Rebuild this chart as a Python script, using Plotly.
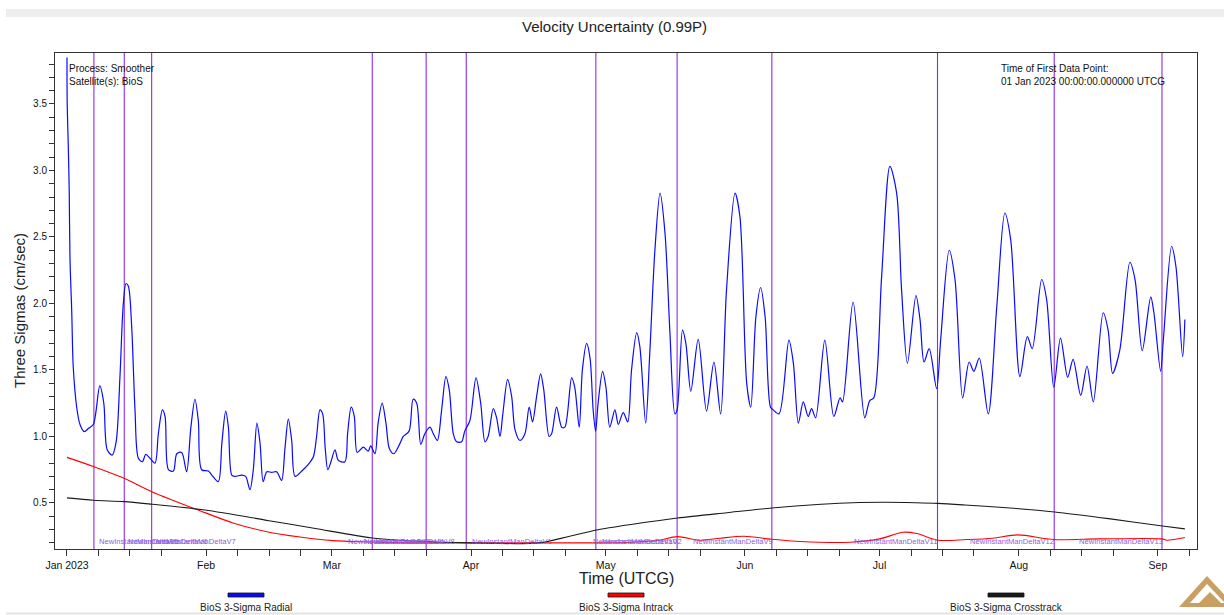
import pandas as pd
import plotly.graph_objects as go

# Epoch of the first data point; all series times are day offsets from it
EPOCH = pd.Timestamp("2023-01-01 00:00:00")

# BioS 3-sigma radial velocity uncertainty (cm/sec)
radial_day = [0.0, 0.05, 0.3, 0.5, 0.67, 1.05, 1.4, 2.16, 2.9, 3.86,
              4.75, 5.86, 7.3, 8.2, 8.95, 10.06, 10.95, 11.8, 12.55, 13.15,
              13.67, 14.4, 15.15, 15.9, 16.8, 17.55, 18.5, 19.6, 20.35, 21.25,
              21.85, 22.6, 23.7, 24.45, 25.55, 26.65, 27.6, 28.5, 29.25, 30.0,
              31.5, 32.25, 33.7, 34.5, 35.35, 35.95, 36.7, 37.4, 38.9, 39.8,
              40.75, 41.5, 42.3, 43.0, 43.7, 44.5, 45.6, 46.7, 47.8, 48.55,
              49.3, 50.05, 50.8, 52.3, 53.75, 54.9, 55.6, 56.35, 56.95, 57.5,
              58.1, 58.8, 59.7, 60.45, 61.9, 62.5, 63.3, 64.0, 64.65, 66.0,
              67.1, 67.65, 68.6, 69.3, 70.2, 71.05, 71.8, 72.8, 74.2, 74.9,
              76.2, 77.1, 77.9, 78.8, 79.7, 80.85, 81.6, 82.5, 83.45, 84.4,
              85.15, 86.05, 86.8, 87.9, 88.6, 89.75, 91.1, 92.15, 93.1, 93.8,
              94.95, 95.7, 96.45, 97.05, 98.15, 99.05, 99.8, 100.9, 102.0, 102.95,
              103.7, 104.6, 105.5, 106.2, 107.4, 107.95, 109.05, 110.2, 110.9, 112.4,
              113.1, 114.1, 114.8, 115.75, 116.5, 117.2, 117.75, 118.3, 119.3, 120.05,
              120.9, 122.05, 122.8, 123.9, 124.9, 125.75, 126.9, 127.6, 128.9, 129.8,
              130.95, 132.1, 133.2, 134.3, 135.4, 135.9, 137.1, 137.85, 138.95, 140.6,
              142.45, 144.1, 145.6, 146.9, 148.8, 149.9, 151.4, 152.3, 153.45, 154.5,
              155.5, 156.7, 157.3, 158.6, 160.8, 161.8, 162.9, 164.0, 165.1, 165.85,
              166.75, 168.8, 170.8, 172.2, 172.75, 175.1, 177.7, 178.8, 179.7, 181.45,
              183.3, 184.8, 185.9, 187.2, 189.1, 190.0, 190.9, 192.05, 193.7, 194.6,
              196.5, 197.8, 199.5, 200.95, 202.0, 203.2, 205.2, 207.1, 208.9, 210.2,
              212.25, 213.9, 215.0, 217.1, 218.2, 219.8, 221.3, 222.9, 224.1, 225.8,
              227.2, 228.6, 230.8, 231.9, 232.9, 234.5, 236.75, 237.9, 239.5, 241.4,
              242.1, 243.6, 244.2, 246.05, 247.0, 248.5, 249.0]
radial_val = [3.85, 3.5, 3.17, 2.84, 2.33, 1.95, 1.52, 1.22, 1.09, 1.036,
              1.06, 1.09, 1.38, 1.25, 0.90, 0.86, 0.96, 1.45, 2.0, 2.15,
              2.13, 1.83, 1.2, 0.836, 0.81, 0.866, 0.836, 0.80, 1.02, 1.2,
              1.15, 0.75, 0.74, 0.87, 0.88, 0.735, 1.07, 1.28, 1.12, 0.75,
              0.74, 0.71, 0.66, 0.95, 1.19, 1.07, 0.71, 0.70, 0.71, 0.70,
              0.60, 0.75, 1.10, 0.95, 0.66, 0.735, 0.73, 0.735, 0.67, 0.91,
              1.13, 0.97, 0.70, 0.74, 0.79, 0.85, 1.0, 1.2, 1.17, 0.92,
              0.75, 0.81, 0.90, 0.82, 0.81, 1.02, 1.22, 1.15, 0.88, 0.92,
              0.89, 0.93, 0.87, 1.10, 1.25, 1.10, 0.91, 0.87, 0.95, 1.0,
              1.04, 1.28, 1.25, 0.94, 1.02, 1.07, 1.02, 0.97, 1.2, 1.45,
              1.35, 1.02, 0.96, 0.96, 1.04, 1.12, 1.44, 1.25, 0.96, 1.0,
              1.21, 1.14, 1.0, 1.16, 1.43, 1.30, 1.05, 0.97, 1.02, 1.22,
              1.11, 1.30, 1.47, 1.35, 1.0, 1.02, 1.22, 1.07, 1.07, 1.44,
              1.37, 1.07, 1.50, 1.70, 1.59, 1.20, 1.04, 1.25, 1.49, 1.37,
              1.07, 1.20, 1.09, 1.18, 1.11, 1.50, 1.78, 1.675, 1.10, 1.62,
              2.40, 2.83, 2.53, 1.78, 1.17, 1.2, 1.80, 1.70, 1.34, 1.73,
              1.19, 1.56, 1.17, 2.10, 2.83, 2.65, 1.40, 1.22, 1.90, 2.12,
              1.90, 1.22, 1.20, 1.17, 1.725, 1.55, 1.10, 1.26, 1.15, 1.21,
              1.14, 1.725, 1.15, 1.29, 1.26, 2.01, 1.14, 1.27, 1.29, 2.20,
              3.03, 2.83, 2.10, 1.55, 2.06, 1.88, 1.56, 1.66, 1.36, 1.725,
              2.40, 2.18, 1.29, 1.56, 1.49, 1.59, 1.17, 1.975, 2.68, 2.48,
              1.45, 1.75, 1.66, 2.18, 2.03, 1.37, 1.74, 1.445, 1.58, 1.31,
              1.53, 1.26, 1.93, 1.80, 1.475, 1.65, 2.31, 2.18, 1.645, 2.05,
              1.93, 1.49, 1.725, 2.43, 2.28, 1.60, 1.88]

# BioS 3-sigma intrack velocity uncertainty (cm/sec)
intrack_day = [0, 6, 12.7, 18.9, 29.6, 37, 44.5, 51.9, 59.2, 66.8, 77.1, 85.3,
               105.3, 118, 126, 132, 135.9, 141, 145.4, 150.8, 157, 163.3, 174.4,
               181, 186.2, 189.3, 194, 200.4, 206.2, 211.8, 219.8, 230, 243.9, 245, 249]
intrack_val = [0.843, 0.773, 0.686, 0.585, 0.442, 0.35, 0.284, 0.244, 0.217, 0.207, 0.2, 0.2,
               0.2, 0.2, 0.205, 0.22, 0.247, 0.22, 0.235, 0.25, 0.227, 0.21, 0.205,
               0.23, 0.28, 0.27, 0.22, 0.225, 0.235, 0.26, 0.225, 0.23, 0.23, 0.22, 0.24]

# BioS 3-sigma crosstrack velocity uncertainty (cm/sec)
crosstrack_day = [0, 6, 12.7, 19, 30.7, 45, 55, 68, 77, 90, 105, 112, 118, 126, 136,
                  147, 157, 168, 175, 182, 189, 194, 200, 210, 220, 232, 244, 249]
crosstrack_val = [0.538, 0.52, 0.51, 0.49, 0.447, 0.367, 0.31, 0.237, 0.214, 0.2, 0.2, 0.25,
                  0.297, 0.34, 0.387, 0.427, 0.462, 0.49, 0.502, 0.505, 0.502, 0.497,
                  0.485, 0.462, 0.432, 0.382, 0.327, 0.305]

# Instantaneous maneuver epochs (day offsets) and their labels
maneuver_day = [6.0, 12.76, 18.86, 68.0, 80.0, 88.93, 117.8, 135.9, 157.0, 193.9, 219.9, 243.9]
label_day = [6.68, 13.14, 19.38, 62.14, 65.7, 68.15, 89.76, 116.7, 118.7, 138.98, 174.83, 200.67, 224.94]
label_text = ["NewInstantManDeltaV5", "NewInstantManDeltaV6", "NewInstantManDeltaV7",
              "NewInstantManDeltaV3", "NewInstantManDeltaV4", "NewInstantManDeltaV8",
              "NewInstantManDeltaV1", "NewInstantManDeltaV10", "NewInstantManDeltaV2",
              "NewInstantManDeltaV9", "NewInstantManDeltaV11", "NewInstantManDeltaV12",
              "NewInstantManDeltaV13"]

# Axis ticks
month_ticks = ["2023-01-01", "2023-02-01", "2023-03-01", "2023-04-01", "2023-05-01",
               "2023-06-01", "2023-07-01", "2023-08-01", "2023-09-01"]
month_text = ["Jan 2023", "Feb", "Mar", "Apr", "May", "Jun", "Jul", "Aug", "Sep"]
week_days_of_month = [8, 15, 22]
y_major = [0.5, 1.0, 1.5, 2.0, 2.5, 3.0, 3.5]

series_names = ["BioS 3-Sigma Radial", "BioS 3-Sigma Intrack", "BioS 3-Sigma Crosstrack"]
series_colors = ["#0a0aff", "#ff0000", "#1a1a1a"]

FONT = "Liberation Sans, Arial, sans-serif"
W, H = 1224, 615
PL, PR, PT, PB = 55, 1197, 53, 549


def to_time(days):
    return EPOCH + pd.to_timedelta(days, unit="D")


def iso(ts):
    return ts.strftime("%Y-%m-%d %H:%M:%S")


def fx(px):
    return (px - PL) / (PR - PL)


def fy(py):
    return (PB - py) / (PB - PT)


minor_ticks = [f"2023-{m:02d}-{d:02d}" for m in range(1, 10) for d in week_days_of_month]

fig = go.Figure()

series = [(radial_day, radial_val), (intrack_day, intrack_val), (crosstrack_day, crosstrack_val)]
widths = [1.2, 1.1, 1.1]
for (days, vals), name, color, w in zip(series, series_names, series_colors, widths):
    fig.add_trace(go.Scatter(
        x=to_time(days), y=vals, mode="lines", name=name,
        line=dict(color=color, width=w, shape="spline", smoothing=0.85),
        showlegend=False, hoverinfo="x+y+name"))

shapes = []
# maneuver markers
for d in maneuver_day:
    shapes.append(dict(type="line", xref="x", yref="paper", x0=iso(to_time(d)), x1=iso(to_time(d)),
                       y0=0, y1=1, line=dict(color="#8a2be2", width=1.1), layer="below"))

# page decoration: header strip and footer rule
shapes.append(dict(type="rect", xref="paper", yref="paper", x0=fx(6), x1=fx(1224), y0=fy(17), y1=fy(9),
                   fillcolor="#eeeeee", line=dict(width=0), layer="below"))
shapes.append(dict(type="line", xref="paper", yref="paper", x0=fx(6), x1=fx(1224), y0=fy(613.5), y1=fy(613.5),
                   line=dict(color="#e4e4e4", width=2)))

# custom legend swatches
legend_centers = [246, 626, 1006]
for cx, color in zip(legend_centers, series_colors):
    shapes.append(dict(type="rect", xref="paper", yref="paper", x0=fx(cx - 18), x1=fx(cx + 18),
                       y0=fy(597), y1=fy(593), fillcolor=color, line=dict(color="#111111", width=0.8)))


# corner logo
def pth(points):
    return "M " + " L ".join(f"{fx(x)},{fy(y)}" for x, y in points) + " Z"


shapes.append(dict(type="path", xref="paper", yref="paper",
                   path=pth([(1179, 607), (1207, 576), (1236, 607)]),
                   fillcolor="#c8a063", line=dict(width=0)))
shapes.append(dict(type="path", xref="paper", yref="paper",
                   path=pth([(1190, 603), (1207, 584), (1225, 603)]),
                   fillcolor="#ffffff", line=dict(width=0)))
shapes.append(dict(type="path", xref="paper", yref="paper",
                   path=pth([(1199, 603), (1210, 592), (1221, 603)]),
                   fillcolor="#c8a063", line=dict(width=0)))

annotations = []
annotations.append(dict(text="Velocity Uncertainty (0.99P)", xref="paper", yref="paper",
                        x=fx(614), y=fy(27), showarrow=False, xanchor="center", yanchor="middle",
                        font=dict(family=FONT, size=15, color="#222222")))
annotations.append(dict(text="Three Sigmas (cm/sec)", xref="paper", yref="paper",
                        x=fx(19), y=fy(311), showarrow=False, textangle=-90,
                        xanchor="center", yanchor="middle",
                        font=dict(family=FONT, size=15, color="#222222")))
annotations.append(dict(text="Time (UTCG)", xref="paper", yref="paper",
                        x=fx(626), y=fy(578), showarrow=False, xanchor="center", yanchor="middle",
                        font=dict(family=FONT, size=16, color="#222222")))
annotations.append(dict(text="Process: Smoother<br>Satellite(s): BioS", xref="paper", yref="paper",
                        x=fx(67), y=fy(61), showarrow=False, xanchor="left", yanchor="top", align="left",
                        font=dict(family=FONT, size=10, color="#111111")))
annotations.append(dict(text="Time of First Data Point:<br>01 Jan 2023 00:00:00.000000 UTCG",
                        xref="paper", yref="paper", x=fx(999), y=fy(61), showarrow=False,
                        xanchor="left", yanchor="top", align="left",
                        font=dict(family=FONT, size=10, color="#111111")))
for cx, name in zip(legend_centers, series_names):
    annotations.append(dict(text=name, xref="paper", yref="paper", x=fx(cx), y=fy(607.5),
                            showarrow=False, xanchor="center", yanchor="middle",
                            font=dict(family=FONT, size=10, color="#222222")))
for d, t in zip(label_day, label_text):
    annotations.append(dict(text=t, xref="x", yref="y", x=iso(to_time(d)), y=0.214,
                            showarrow=False, xanchor="left", yanchor="middle",
                            font=dict(family=FONT, size=7.6, color="#8c5ee0")))

fig.update_layout(
    width=W, height=H, autosize=False,
    margin=dict(l=PL, r=W - PR, t=PT, b=H - PB, pad=0),
    paper_bgcolor="#ffffff", plot_bgcolor="#ffffff",
    font=dict(family=FONT, size=10, color="#222222"),
    shapes=shapes, annotations=annotations, showlegend=False,
)

fig.update_xaxes(
    type="date", range=[iso(to_time(-2.67)), iso(to_time(251.7))],
    tickmode="array", tickvals=month_ticks, ticktext=month_text,
    ticks="outside", ticklen=6, tickwidth=1, tickcolor="#333333",
    tickfont=dict(family=FONT, size=10.5, color="#111111"),
    showline=True, linecolor="#333333", linewidth=1, mirror=True,
    showgrid=False, zeroline=False,
    minor=dict(tickmode="array", tickvals=minor_ticks, ticks="outside", ticklen=6,
               tickwidth=1, tickcolor="#333333", showgrid=False),
)
fig.update_yaxes(
    range=[0.154, 3.883],
    tickmode="array", tickvals=y_major, ticktext=[f"{v:.1f}" for v in y_major],
    ticks="outside", ticklen=5, tickwidth=1, tickcolor="#333333",
    tickfont=dict(family=FONT, size=10, color="#111111"),
    showline=True, linecolor="#333333", linewidth=1, mirror=True,
    showgrid=False, zeroline=False,
    minor=dict(dtick=0.1, tick0=0.0, ticks="outside", ticklen=5, tickwidth=1,
               tickcolor="#333333", showgrid=False),
)

fig.write_html("out.html")
